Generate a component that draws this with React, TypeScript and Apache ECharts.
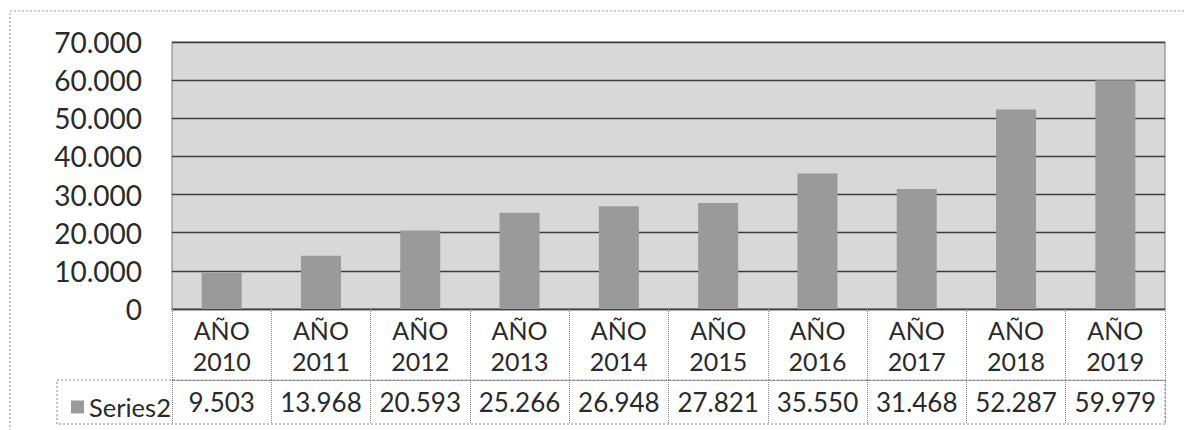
import React, { useEffect, useRef } from "react";
import * as echarts from "echarts";

const years = ["2010", "2011", "2012", "2013", "2014", "2015", "2016", "2017", "2018", "2019"];
const categories = years.map((y) => `AÑO\n${y}`);
const seriesName = "Series2";
const values = [9503, 13968, 20593, 25266, 26948, 27821, 35550, 31468, 52287, 59979];
const yMin = 0;
const yMax = 70000;
const yStep = 10000;

const fmt = (v: number) => String(v).replace(/\B(?=(\d{3})+(?!\d))/g, ".");

const FONT = "Lato, 'Open Sans', sans-serif";
const TEXT = "#2a2a2a";

export default function App() {
  const ref = useRef<HTMLDivElement>(null);
  useEffect(() => {
    if (!ref.current) return;
    const chart = echarts.init(ref.current, null, { renderer: "svg" });
    chart.setOption({
      animation: false,
      backgroundColor: "#ffffff",
      textStyle: { fontFamily: FONT },
      grid: {
        left: 172,
        right: 19,
        top: 42,
        height: 267,
        show: true,
        backgroundColor: "#d8d8d8",
        borderColor: "#7a7a7a",
        borderWidth: 1,
      },
      legend: {
        data: [seriesName],
        left: 66,
        top: 389,
        icon: "rect",
        itemWidth: 13,
        itemHeight: 13,
        itemGap: 5,
        textStyle: { fontSize: 25.5, color: TEXT, fontFamily: FONT },
        selectedMode: false,
      },
      xAxis: [
        {
          type: "category",
          data: categories,
          position: "bottom",
          axisLine: { show: true, lineStyle: { color: "#444", width: 1.3 } },
          axisTick: {
            show: true,
            alignWithLabel: false,
            interval: 0,
            length: 71,
            lineStyle: { color: "#888", type: "dotted", width: 1 },
          },
          axisLabel: {
            interval: 0,
            fontSize: 25,
            lineHeight: 31,
            margin: 5,
            color: TEXT,
            fontFamily: FONT,
          },
        },
        {
          type: "category",
          data: categories,
          position: "bottom",
          offset: 71,
          axisLine: { show: true, lineStyle: { color: "#888", type: "dotted", width: 1 } },
          axisTick: {
            show: true,
            alignWithLabel: false,
            interval: 0,
            length: 44,
            lineStyle: { color: "#888", type: "dotted", width: 1 },
          },
          axisLabel: {
            interval: 0,
            fontSize: 26,
            margin: 9,
            color: TEXT,
            fontFamily: FONT,
            formatter: (_v: string, i: number) => fmt(values[i]),
          },
        },
      ],
      yAxis: {
        type: "value",
        min: yMin,
        max: yMax,
        interval: yStep,
        axisLine: { show: false },
        axisTick: { show: false },
        splitLine: { show: true, lineStyle: { color: "#3c3c3c", width: 1.3 } },
        axisLabel: {
          fontSize: 28,
          margin: 30,
          color: TEXT,
          fontFamily: FONT,
          formatter: (v: number) => fmt(v),
        },
      },
      series: [
        {
          name: seriesName,
          type: "bar",
          data: values,
          xAxisIndex: 0,
          barWidth: 40,
          itemStyle: { color: "#9a9a9a" },
        },
      ],
      graphic: [
        {
          type: "rect",
          silent: true,
          shape: { x: 10, y: 11, width: 1200, height: 440 },
          style: { fill: "none", stroke: "#9a9a9a", lineWidth: 1, lineDash: [2, 2] },
        },
        {
          type: "rect",
          silent: true,
          shape: { x: 57, y: 380, width: 1108, height: 44 },
          style: { fill: "none", stroke: "#888", lineWidth: 1, lineDash: [2, 2] },
        },
      ],
    });
    return () => chart.dispose();
  }, []);
  return (
    <div
      ref={ref}
      style={{ position: "fixed", left: 0, top: 0, width: 1184, height: 430, background: "#fff" }}
    />
  );
}
